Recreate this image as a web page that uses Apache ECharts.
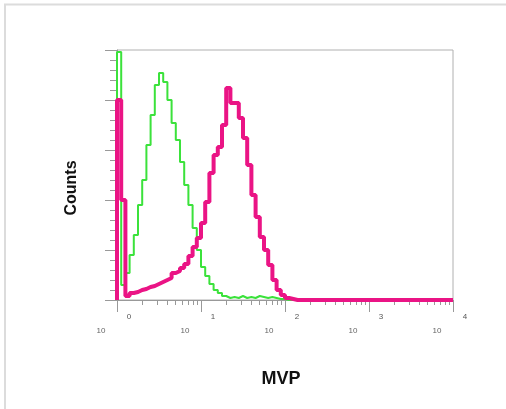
<!DOCTYPE html>
<html>
<head>
<meta charset="utf-8">
<script src="https://cdn.jsdelivr.net/npm/echarts@6/dist/echarts.min.js"></script>
<style>
html,body{margin:0;padding:0;background:#fff;}
#chart{width:506px;height:409px;}
</style>
</head>
<body>
<div id="chart"></div>
<script>
// Histogram channel counts, 20 bins per decade over 10^0 .. 10^4
const binsPerDecade = 20;
const greenCounts = [
  248, 15, 27, 45, 65, 95, 120, 155, 185, 215,
  227, 218, 200, 177, 160, 138, 115, 95, 72, 50,
  33, 24, 16, 10, 7, 4, 2, 3, 2, 4,
  2, 3, 2, 4, 3, 2, 3, 2, 1, 1,
  0, 0, 0, 0, 0, 0, 0, 0, 0, 0,
  0, 0, 0, 0, 0, 0, 0, 0, 0, 0,
  0, 0, 0, 0, 0, 0, 0, 0, 0, 0,
  0, 0, 0, 0, 0, 0, 0, 0, 0, 0
];
const magentaCounts = [
  200, 100, 4, 7, 8, 10, 11, 13, 14, 16,
  18, 20, 22, 27, 29, 32, 36, 44, 53, 62,
  77, 98, 127, 145, 153, 175, 212, 197, 197, 182,
  162, 135, 105, 83, 63, 50, 35, 20, 10, 5,
  2, 1, 0, 0, 0, 0, 0, 0, 0, 0,
  0, 0, 0, 0, 0, 0, 0, 0, 0, 0,
  0, 0, 0, 0, 0, 0, 0, 0, 0, 0,
  0, 0, 0, 0, 0, 0, 0, 0, 0, 0
];
const decadeTicks = [1, 10, 100, 1000, 10000];
const decadeExponents = ['0', '1', '2', '3', '4'];
const minorTicks = [2,3,4,5,6,7,8,9,20,30,40,50,60,70,80,90,200,300,400,500,600,700,800,900,2000,3000,4000,5000,6000,7000,8000,9000];
const xTitle = 'MVP';
const yTitle = 'Counts';

function toSteps(counts) {
  const pts = [[1, 0]];
  counts.forEach((c, i) => pts.push([Math.pow(10, i / binsPerDecade), c]));
  pts.push([Math.pow(10, counts.length / binsPerDecade), counts[counts.length - 1]]);
  return pts;
}

const chart = echarts.init(document.getElementById('chart'), null, {renderer: 'canvas'});
const fontFam = '"Liberation Sans", Arial, sans-serif';
const axisGray = '#999';

chart.setOption({
  animation: false,
  backgroundColor: '#fff',
  graphic: [{
    type: 'rect', silent: true,
    shape: {x: 5, y: 4.5, width: 520, height: 430},
    style: {fill: 'none', stroke: '#dcdcdc', lineWidth: 2}
  }],
  grid: {
    left: 117, right: 53, top: 50, bottom: 109,
    show: true, borderColor: '#b0b0b0', borderWidth: 1
  },
  xAxis: [{
    type: 'log', logBase: 10, min: 1, max: 10000,
    name: xTitle, nameLocation: 'middle', nameGap: 70,
    nameTextStyle: {fontFamily: fontFam, fontWeight: 'bold', fontSize: 18, color: '#111', padding: [0, 8, 0, 0]},
    axisLine: {show: true, lineStyle: {color: axisGray, width: 1}},
    axisTick: {show: true, customValues: decadeTicks, length: 12, lineStyle: {color: axisGray}},
    axisLabel: {
      show: true, customValues: decadeTicks, margin: 25,
      formatter: () => '{a|10}{p|}',
      rich: {a: {fontSize: 8, color: '#666', fontFamily: fontFam}, p: {width: 32}}
    },
    splitLine: {show: false}
  }, {
    type: 'log', logBase: 10, min: 1, max: 10000, position: 'bottom',
    axisLine: {show: false},
    axisTick: {show: true, customValues: minorTicks, length: 5, lineStyle: {color: axisGray}},
    axisLabel: {
      show: true, customValues: decadeTicks, margin: 11,
      formatter: (v) => '{p|}{e|' + decadeExponents[decadeTicks.indexOf(v)] + '}',
      rich: {e: {fontSize: 8, color: '#555', fontFamily: fontFam}, p: {width: 24}}
    },
    splitLine: {show: false}
  }],
  yAxis: {
    type: 'value', min: 0, max: 250, interval: 50,
    name: yTitle, nameLocation: 'middle', nameGap: 37,
    nameTextStyle: {fontFamily: fontFam, fontWeight: 'bold', fontSize: 16, color: '#111', padding: [0, 26, 0, 0]},
    axisLine: {show: true, lineStyle: {color: axisGray}},
    axisTick: {show: true, length: 12, lineStyle: {color: axisGray}},
    minorTick: {show: true, splitNumber: 5, length: 7, lineStyle: {color: axisGray}},
    axisLabel: {show: false},
    splitLine: {show: false}
  },
  series: [{
    type: 'line', step: 'end', xAxisIndex: 0,
    data: toSteps(greenCounts), showSymbol: false,
    lineStyle: {color: '#3be23b', width: 2}, z: 2
  }, {
    type: 'line', step: 'end', xAxisIndex: 0,
    data: toSteps(magentaCounts), showSymbol: false,
    lineStyle: {color: '#ea1485', width: 4}, z: 3
  }]
});
</script>
</body>
</html>
